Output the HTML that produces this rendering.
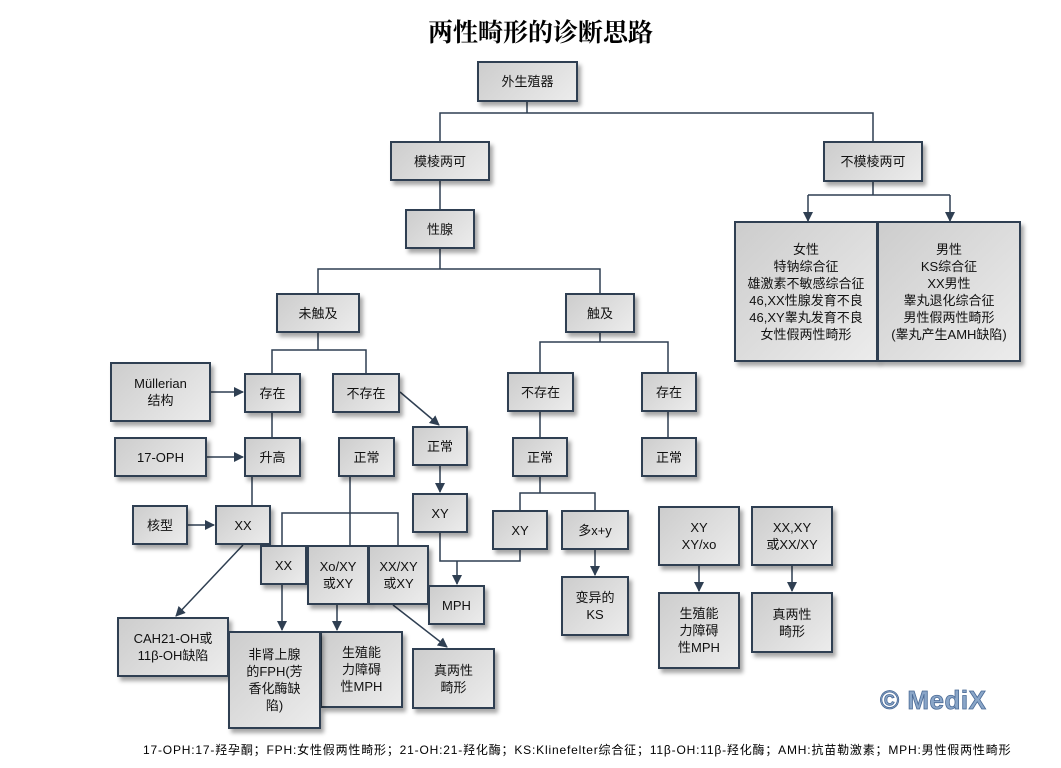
<!DOCTYPE html>
<html><head><meta charset="utf-8"><style>
body{margin:0;width:1061px;height:768px;background:#fff;position:relative;overflow:hidden;font-family:"Liberation Sans","Noto Sans CJK SC",sans-serif;}
.b{position:absolute;box-sizing:border-box;border:2px solid #2f3f52;background:linear-gradient(135deg,#cdcdcd,#ececec);box-shadow:3px 4px 4px rgba(0,0,0,0.35);display:flex;align-items:center;justify-content:center;text-align:center;font-size:13px;line-height:17px;color:#111;}
svg{position:absolute;left:0;top:0;}
.t{position:absolute;}
</style></head><body>
<svg width="1061" height="768">
<defs><marker id="a" markerWidth="10" markerHeight="10" refX="9" refY="5" orient="auto" markerUnits="userSpaceOnUse"><path d="M0,0 L10,5 L0,10 z" fill="#2f3f52"/></marker></defs>
<g stroke="#2f3f52" stroke-width="1.5" fill="none">
<path d="M527,102 V113 M440,141 V113 H873 V141"/>
<path d="M440,181 V209"/>
<path d="M440,249 V269 M318,293 V269 H600 V293"/>
<path d="M873,182 V195 M808,195 H950"/>
<path d="M808,195 V221" marker-end="url(#a)"/><path d="M950,195 V221" marker-end="url(#a)"/>
<path d="M318,333 V350 M272,373 V350 H366 V373"/>
<path d="M600,333 V342 M540,372 V342 H668 V372"/>
<path d="M272,412 V437 M252,477 V505"/>
<path d="M210,392 H243" marker-end="url(#a)"/>
<path d="M207,457 H243" marker-end="url(#a)"/>
<path d="M188,525 H214" marker-end="url(#a)"/>
<path d="M400,392 L439,425" marker-end="url(#a)"/>
<path d="M440,466 V492" marker-end="url(#a)"/>
<path d="M350,477 V545 M282,545 V513 H398 V545"/>
<path d="M440,533 V561 H520 V550 M457,561 V584" marker-end="url(#a)"/>
<path d="M243,545 L176,616" marker-end="url(#a)"/>
<path d="M282,585 V630" marker-end="url(#a)"/>
<path d="M337,605 V630" marker-end="url(#a)"/>
<path d="M393,605 L447,647" marker-end="url(#a)"/>
<path d="M540,412 V437 M668,412 V437"/>
<path d="M540,477 V493 M520,510 V493 H595 V510"/>
<path d="M595,550 V575" marker-end="url(#a)"/>
<path d="M699,566 V591" marker-end="url(#a)"/>
<path d="M792,566 V591" marker-end="url(#a)"/>
</g></svg>
<div class="t" style="left:0;width:1061px;top:13px;text-align:center;font-family:'Liberation Serif','Noto Serif CJK SC',serif;font-weight:bold;font-size:25px;padding-left:20px;box-sizing:border-box;">两性畸形的诊断思路</div>
<div class="b" style="left:477px;top:61px;width:101px;height:41px">外生殖器</div>
<div class="b" style="left:390px;top:141px;width:100px;height:40px">模棱两可</div>
<div class="b" style="left:823px;top:141px;width:100px;height:41px">不模棱两可</div>
<div class="b" style="left:405px;top:209px;width:70px;height:40px">性腺</div>
<div class="b" style="left:734px;top:221px;width:144px;height:141px">女性<br>特钠综合征<br>雄激素不敏感综合征<br>46,XX性腺发育不良<br>46,XY睾丸发育不良<br>女性假两性畸形</div>
<div class="b" style="left:877px;top:221px;width:144px;height:141px">男性<br>KS综合征<br>XX男性<br>睾丸退化综合征<br>男性假两性畸形<br>(睾丸产生AMH缺陷)</div>
<div class="b" style="left:276px;top:293px;width:84px;height:40px">未触及</div>
<div class="b" style="left:565px;top:293px;width:70px;height:40px">触及</div>
<div class="b" style="left:110px;top:362px;width:101px;height:60px">Müllerian<br>结构</div>
<div class="b" style="left:244px;top:373px;width:57px;height:40px">存在</div>
<div class="b" style="left:332px;top:373px;width:68px;height:40px">不存在</div>
<div class="b" style="left:507px;top:372px;width:67px;height:40px">不存在</div>
<div class="b" style="left:641px;top:372px;width:56px;height:40px">存在</div>
<div class="b" style="left:114px;top:437px;width:93px;height:40px">17-OPH</div>
<div class="b" style="left:244px;top:437px;width:57px;height:40px">升高</div>
<div class="b" style="left:338px;top:437px;width:57px;height:40px">正常</div>
<div class="b" style="left:412px;top:426px;width:56px;height:40px">正常</div>
<div class="b" style="left:512px;top:437px;width:56px;height:40px">正常</div>
<div class="b" style="left:641px;top:437px;width:56px;height:40px">正常</div>
<div class="b" style="left:412px;top:493px;width:56px;height:40px">XY</div>
<div class="b" style="left:132px;top:505px;width:56px;height:40px">核型</div>
<div class="b" style="left:215px;top:505px;width:56px;height:40px">XX</div>
<div class="b" style="left:492px;top:510px;width:56px;height:40px">XY</div>
<div class="b" style="left:561px;top:510px;width:68px;height:40px">多x+y</div>
<div class="b" style="left:658px;top:506px;width:82px;height:60px">XY<br>XY/xo</div>
<div class="b" style="left:751px;top:506px;width:82px;height:60px">XX,XY<br>或XX/XY</div>
<div class="b" style="left:260px;top:545px;width:47px;height:40px">XX</div>
<div class="b" style="left:307px;top:545px;width:62px;height:60px">Xo/XY<br>或XY</div>
<div class="b" style="left:368px;top:545px;width:61px;height:60px">XX/XY<br>或XY</div>
<div class="b" style="left:428px;top:585px;width:57px;height:40px">MPH</div>
<div class="b" style="left:561px;top:576px;width:68px;height:60px">变异的<br>KS</div>
<div class="b" style="left:658px;top:592px;width:82px;height:77px">生殖能<br>力障碍<br>性MPH</div>
<div class="b" style="left:751px;top:592px;width:82px;height:61px">真两性<br>畸形</div>
<div class="b" style="left:117px;top:617px;width:112px;height:60px">CAH21-OH或<br>11β-OH缺陷</div>
<div class="b" style="left:320px;top:631px;width:83px;height:77px">生殖能<br>力障碍<br>性MPH</div>
<div class="b" style="left:228px;top:631px;width:93px;height:98px">非肾上腺<br>的FPH(芳<br>香化酶缺<br>陷)</div>
<div class="b" style="left:412px;top:648px;width:83px;height:61px">真两性<br>畸形</div>
<div class="t" style="left:880px;top:685px;font-size:26px;font-weight:bold;color:#8aa6c8;-webkit-text-stroke:0.8px #4a6a96;letter-spacing:0.5px;">© MediX</div>
<div class="t" style="left:143px;top:741px;font-size:12px;letter-spacing:0.82px;white-space:nowrap;">17-OPH:17-羟孕酮；FPH:女性假两性畸形；21-OH:21-羟化酶；KS:Klinefelter综合征；11β-OH:11β-羟化酶；AMH:抗苗勒激素；MPH:男性假两性畸形</div>
</body></html>
